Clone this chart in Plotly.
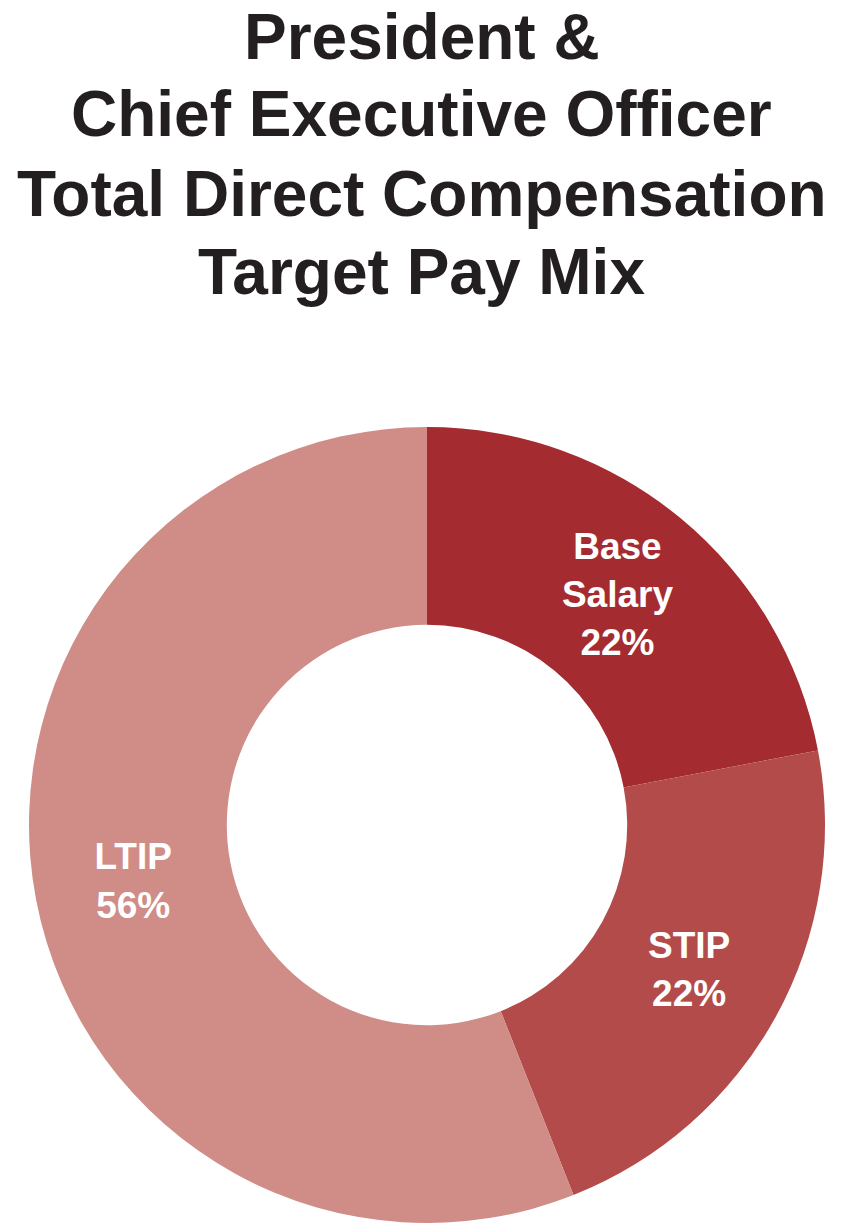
import plotly.graph_objects as go

W, H = 843, 1223

categories = ["Base Salary", "STIP", "LTIP"]
slice_text = ["Base<br>Salary", "STIP", "LTIP"]
values = [22, 22, 56]
colors = ["#A42C31", "#B24B49", "#D08C87"]

title_lines = [
    "President &",
    "Chief Executive Officer",
    "Total Direct Compensation",
    "Target Pay Mix",
]
title_centers_px = [37, 114, 194, 272]

fig = go.Figure(
    go.Pie(
        labels=categories,
        values=values,
        text=slice_text,
        texttemplate="%{text}<br>%{value}%",
        textposition="inside",
        insidetextorientation="horizontal",
        textfont=dict(family="Liberation Sans, Arial, sans-serif", size=37, color="white", weight="bold"),
        marker=dict(colors=colors, line=dict(width=0)),
        hole=0.503,
        sort=False,
        direction="clockwise",
        rotation=0,
        showlegend=False,
        hoverinfo="label+percent",
        domain=dict(x=[(427 - 398) / W, (427 + 398) / W], y=[0, 796 / H]),
    )
)

for line, py in zip(title_lines, title_centers_px):
    fig.add_annotation(
        text=line,
        x=0.5,
        xref="paper",
        y=1 - py / H,
        yref="paper",
        xanchor="center",
        yanchor="middle",
        showarrow=False,
        font=dict(family="Liberation Sans, Arial, sans-serif",
                  size=64, color="#231F20", weight="bold"),
    )

fig.update_layout(
    width=W,
    height=H,
    margin=dict(l=0, r=0, t=0, b=0),
    paper_bgcolor="white",
    plot_bgcolor="white",
)

fig.write_html("out.html")
